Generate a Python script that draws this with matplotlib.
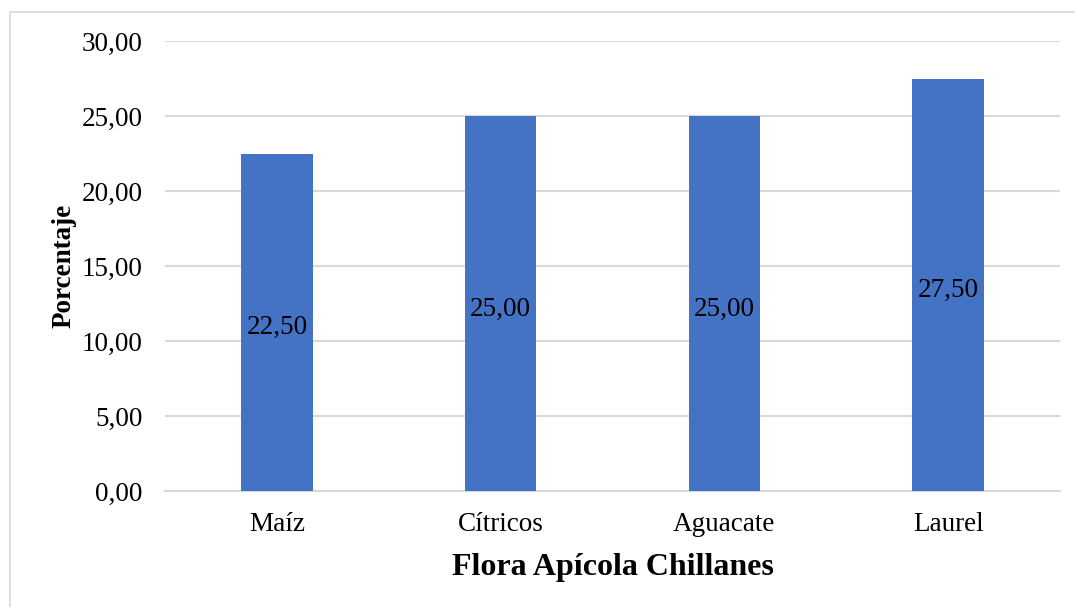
import matplotlib.pyplot as plt
from matplotlib.patches import Rectangle
from matplotlib.ticker import FuncFormatter

plt.rcParams['font.family'] = ['Liberation Serif', 'DejaVu Serif']

categories = ['Maíz', 'Cítricos', 'Aguacate', 'Laurel']
values = [22.5, 25.0, 25.0, 27.5]
yticks = [0, 5, 10, 15, 20, 25, 30]


def comma_fmt(v, pos=None):
    return ('%.2f' % v).replace('.', ',')


W, H = 1075, 607
fig = plt.figure(figsize=(W / 100, H / 100), dpi=100)
ax = fig.add_axes([165 / W, 1 - 491 / H, 895 / W, 450 / H])

# chart frame
fig.patches.append(Rectangle((10 / W, -0.1), 1.2, 1 - 12 / H + 0.1,
                             transform=fig.transFigure, fill=False,
                             edgecolor='#D9D9D9', lw=1.2))

x = range(len(categories))
bars = ax.bar(x, values, width=0.32, color='#4472C4', zorder=3)
for xi, v in zip(x, values):
    ax.annotate(comma_fmt(v), (xi, v / 2), xytext=(0, -4),
                textcoords='offset points', ha='center', va='center',
                fontsize=19.5, color='black', zorder=4)

ax.set_xlim(-0.5, 3.5)
ax.set_ylim(0, 30)
ax.set_yticks(yticks)
ax.yaxis.set_major_formatter(FuncFormatter(comma_fmt))
ax.grid(axis='y', color='#D9D9D9', lw=1.5, zorder=0)
for s in ['top', 'right', 'left']:
    ax.spines[s].set_visible(False)
ax.spines['bottom'].set_color('#D9D9D9')
ax.spines['bottom'].set_linewidth(1.5)
ax.tick_params(length=0, labelsize=19.5)
ax.tick_params(axis='x', pad=15)
ax.tick_params(axis='y', pad=16)
ax.set_xticks(list(x))
ax.set_xticklabels(categories)

ax.set_xlabel('Flora Apícola Chillanes', fontsize=23, fontweight='bold', labelpad=12)
ax.set_ylabel('Porcentaje', fontsize=19.5, fontweight='bold', labelpad=4)

fig.savefig('out.png', dpi=100)
